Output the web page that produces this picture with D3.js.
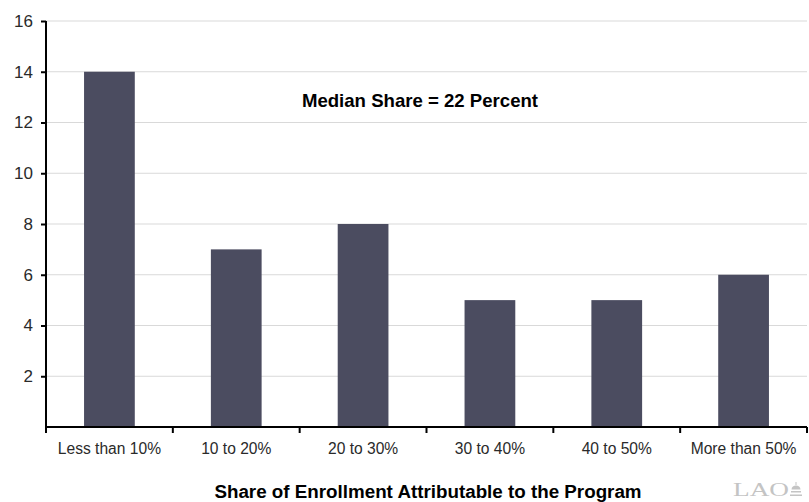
<!DOCTYPE html>
<html><head><meta charset="utf-8">
<script src="https://cdn.jsdelivr.net/npm/d3@7"></script>
<style>body{margin:0;background:#fff}svg{display:block;font-family:"Liberation Sans",Arial,sans-serif}</style>
</head><body>
<svg id="c" width="809" height="502"></svg>
<script>
const categories = ["Less than 10%","10 to 20%","20 to 30%","30 to 40%","40 to 50%","More than 50%"];
const values = [14,7,8,5,5,6];
const yTicks = [2,4,6,8,10,12,14,16];
const xTitle = "Share of Enrollment Attributable to the Program";
const note = "Median Share = 22 Percent";

const svg = d3.select("#c");
const m = {l:46, r:2, t:21, b:75};
const x = d3.scaleBand().domain(categories).range([m.l, 807]).paddingInner(0.6).paddingOuter(0.3);
const y = d3.scaleLinear().domain([0,16]).range([427, 21]);

// gridlines
svg.append("g").selectAll("line").data(yTicks).join("line")
  .attr("x1", m.l).attr("x2", 807).attr("y1", d=>y(d)).attr("y2", d=>y(d))
  .attr("stroke", "#d9d9d9").attr("stroke-width", 1);

// bars
svg.append("g").selectAll("rect").data(values).join("rect")
  .attr("x", (d,i)=>x(categories[i])).attr("width", x.bandwidth())
  .attr("y", d=>y(d)).attr("height", d=>y(0)-y(d))
  .attr("fill", "#4b4c60");

// y axis
const ya = svg.append("g").attr("transform", `translate(${m.l},0)`)
  .call(d3.axisLeft(y).tickValues(yTicks).tickSize(5).tickPadding(8));
ya.select(".domain").attr("stroke","#000").attr("stroke-width",2).attr("d", `M0,${y(16)}V${y(0)}`);
ya.selectAll(".tick line").attr("stroke","#000").attr("stroke-width",2);
ya.selectAll("text").attr("font-size", 17).attr("fill","#2a2a2a").attr("font-family","Liberation Sans, Arial, sans-serif");

// x axis
const xEdge = d3.scaleLinear().domain([0, categories.length]).range([m.l, 807]);
const xa = svg.append("g").attr("transform", `translate(0,${y(0)})`);
xa.append("line").attr("x1", m.l-1).attr("x2", 807).attr("stroke","#000").attr("stroke-width",2);
xa.selectAll("line.t").data(d3.range(categories.length+1)).join("line").attr("class","t")
  .attr("x1", d=>xEdge(d)).attr("x2", d=>xEdge(d)).attr("y1",0).attr("y2",6)
  .attr("stroke","#000").attr("stroke-width",2);
xa.selectAll("text").data(categories).join("text")
  .attr("x", d=>x(d)+x.bandwidth()/2).attr("y", 27)
  .attr("text-anchor","middle").attr("font-size",15.6).attr("fill","#2a2a2a").text(d=>d);

// x title
svg.append("text").attr("x", 428).attr("y", 498).attr("text-anchor","middle")
  .attr("font-weight","bold").attr("font-size",18.8).attr("fill","#000").text(xTitle);

// annotation
svg.append("text").attr("x", 420).attr("y", 107).attr("text-anchor","middle")
  .attr("font-weight","bold").attr("font-size",18.6).attr("fill","#000").text(note);

// LAO logo
const lg = svg.append("g").attr("transform","translate(733,496)");
lg.append("text").attr("x",0).attr("y",0).attr("font-family","Liberation Serif, serif")
  .attr("font-size",18).attr("fill","#c4c4c4").attr("textLength",56).attr("lengthAdjust","spacingAndGlyphs").text("LAO");
lg.append("path").attr("d","M57,0h12v-1.5h-12z M58,-3.5h10v-1.5h-10z M58.5,-6.5c0,-5.5 9,-5.5 9,0z M62.5,-11h1v-3h-1z")
  .attr("fill","#c4c4c4");
</script>
</body></html>
